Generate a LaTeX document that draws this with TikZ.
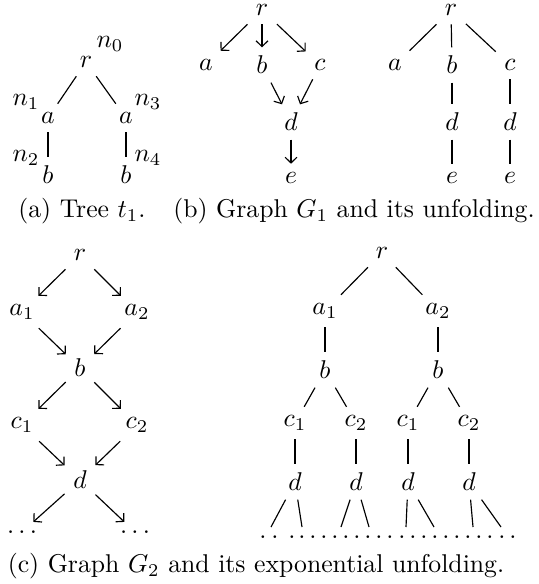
\documentclass[tikz,border=0pt]{standalone}
\usetikzlibrary{arrows.meta}
\begin{document}
\begin{tikzpicture}[x=0.389pt,y=-0.389pt,
  v/.style={inner sep=3.2pt},
  lab/.style={inner sep=1pt},
  captext/.style={inner sep=0pt},
  lineseg/.style={line width=0.45pt},
  arr/.style={line width=0.45pt,-{Straight Barb[length=2.2pt,width=4.6pt]}}]
\useasboundingbox (0,0) rectangle (539,584);
% (a)
\node[v] (ar) at (86,62) {$r$};
\node[lab] (an0) at (110,44) {$n_0$};
\node[v] (aa1) at (48,118) {$a$};
\node[lab] (an1) at (26,102) {$n_1$};
\node[v] (aa2) at (126,118) {$a$};
\node[lab] (an3) at (148,102) {$n_3$};
\node[v] (ab1) at (48,175) {$b$};
\node[lab] (an2) at (26,158) {$n_2$};
\node[v] (ab2) at (126,175) {$b$};
\node[lab] (an4) at (148,158) {$n_4$};
\draw[lineseg] (ar) -- (aa1);
\draw[lineseg] (ar) -- (aa2);
\draw[lineseg] (aa1) -- (ab1);
\draw[lineseg] (aa2) -- (ab2);
\node[captext] (capa) at (82,211) {(a) Tree $t_1$.};
% (b) graph
\node[v] (br) at (262,10) {$r$};
\node[v] (ba) at (206,65) {$a$};
\node[v] (bb) at (262,65) {$b$};
\node[v] (bc) at (320,65) {$c$};
\node[v] (bd) at (291,122) {$d$};
\node[v] (be) at (291,178) {$e$};
\draw[arr] (br) -- (ba);
\draw[arr] (br) -- (bb);
\draw[arr] (br) -- (bc);
\draw[arr] (bb) -- (bd);
\draw[arr] (bc) -- (bd);
\draw[arr] (bd) -- (be);
% (b) unfolding
\node[v] (ur) at (451,10) {$r$};
\node[v] (ua) at (395,65) {$a$};
\node[v] (ub) at (452,65) {$b$};
\node[v] (uc) at (510,65) {$c$};
\node[v] (ud1) at (452,122) {$d$};
\node[v] (ud2) at (510,122) {$d$};
\node[v] (ue1) at (452,178) {$e$};
\node[v] (ue2) at (510,178) {$e$};
\draw[lineseg] (ur) -- (ua);
\draw[lineseg] (ur) -- (ub);
\draw[lineseg] (ur) -- (uc);
\draw[lineseg] (ub) -- (ud1);
\draw[lineseg] (uc) -- (ud2);
\draw[lineseg] (ud1) -- (ue1);
\draw[lineseg] (ud2) -- (ue2);
\node[captext] (capb) at (354,211) {(b) Graph $G_1$ and its unfolding.};
% (c) graph
\node[v] (cr) at (80,255) {$r$};
\node[v] (ca1) at (22,312) {$a_1$};
\node[v] (ca2) at (137,312) {$a_2$};
\node[v] (cb) at (80,368) {$b$};
\node[v] (cc1) at (22,425) {$c_1$};
\node[v] (cc2) at (137,425) {$c_2$};
\node[v] (cd) at (80,480) {$d$};
\node[v] (cx1) at (22,532) {$\ldots$};
\node[v] (cx2) at (135,532) {$\ldots$};
\draw[arr] (cr) -- (ca1);
\draw[arr] (cr) -- (ca2);
\draw[arr] (ca1) -- (cb);
\draw[arr] (ca2) -- (cb);
\draw[arr] (cb) -- (cc1);
\draw[arr] (cb) -- (cc2);
\draw[arr] (cc1) -- (cd);
\draw[arr] (cc2) -- (cd);
\draw[arr] (cd) -- (cx1);
\draw[arr] (cd) -- (cx2);
% (c) unfolding
\node[v] (er) at (382,253) {$r$};
\node[v] (ea1) at (325,311) {$a_1$};
\node[v] (ea2) at (438,311) {$a_2$};
\node[v] (eb1) at (325,370) {$b$};
\node[v] (eb2) at (438,370) {$b$};
\node[v] (ec1) at (295,423) {$c_1$};
\node[v] (ec2) at (356,423) {$c_2$};
\node[v] (ec3) at (408,423) {$c_1$};
\node[v] (ec4) at (469,423) {$c_2$};
\node[v] (ed1) at (295,482) {$d$};
\node[v] (ed2) at (356,482) {$d$};
\node[v] (ed3) at (408,482) {$d$};
\node[v] (ed4) at (469,482) {$d$};
\draw[lineseg] (er) -- (ea1);
\draw[lineseg] (er) -- (ea2);
\draw[lineseg] (ea1) -- (eb1);
\draw[lineseg] (ea2) -- (eb2);
\draw[lineseg] (eb1) -- (ec1);
\draw[lineseg] (eb1) -- (ec2);
\draw[lineseg] (eb2) -- (ec3);
\draw[lineseg] (eb2) -- (ec4);
\draw[lineseg] (ec1) -- (ed1);
\draw[lineseg] (ec2) -- (ed2);
\draw[lineseg] (ec3) -- (ed3);
\draw[lineseg] (ec4) -- (ed4);
\coordinate (k1) at (271,527);
\coordinate (k2) at (302,527);
\coordinate (k3) at (341,527);
\coordinate (k4) at (369,527);
\coordinate (k5) at (406,527);
\coordinate (k6) at (434,527);
\coordinate (k7) at (473,527);
\coordinate (k8) at (501,527);
\draw[lineseg] (ed1) -- (k1);
\draw[lineseg] (ed1) -- (k2);
\draw[lineseg] (ed2) -- (k3);
\draw[lineseg] (ed2) -- (k4);
\draw[lineseg] (ed3) -- (k5);
\draw[lineseg] (ed3) -- (k6);
\draw[lineseg] (ed4) -- (k7);
\draw[lineseg] (ed4) -- (k8);
\foreach \px [count=\i] in {263,275,292,302,313,324,335,346,357,368,379,390,402,413,424,435,446,457,468,479,490,502,513}
  \node[inner sep=0pt] (dot\i) at (\px,537) {.};
\node[captext] (capc) at (256,566) {(c) Graph $G_2$ and its exponential unfolding.};
\end{tikzpicture}
\end{document}
